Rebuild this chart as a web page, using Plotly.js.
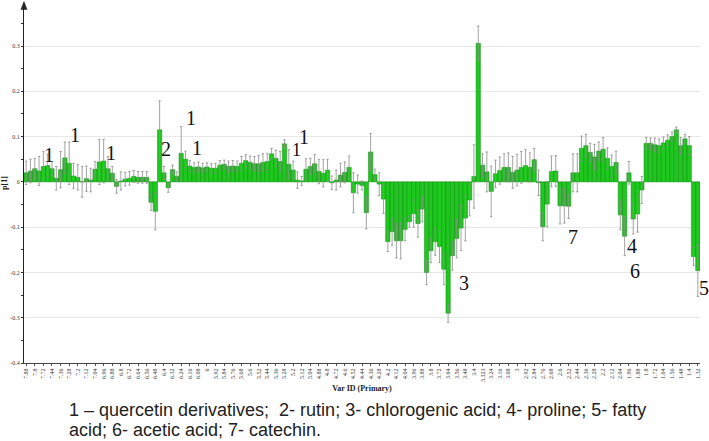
<!DOCTYPE html>
<html>
<head>
<meta charset="utf-8">
<script src="https://cdn.plot.ly/plotly-3.0.1.min.js"></script>
<style>html,body{margin:0;padding:0;background:#fff;}#chart{width:709px;height:441px;}</style>
</head>
<body>
<div id="chart"></div>
<script>
// Tick labels (every second bucket, ppm)
const tickLabels = [
  "7.88","7.8","7.72","7.44","7.36","7.28","7.2","7.12","7.04","6.96",
  "6.88","6.8","6.72","6.64","6.56","6.48","6.4","6.32","6.24","6.16",
  "6.08","6","5.92","5.84","5.76","5.68","5.6","5.52","5.44","5.36",
  "5.28","5.2","5.12","5.04","4.88","4.8","4.72","4.6","4.52","4.44",
  "4.36","4.28","4.2","4.12","4.04","3.96","3.88","3.8","3.72","3.64",
  "3.56","3.48","3.4","3.323","3.24","3.16","3.08","3","2.92","2.84",
  "2.76","2.68","2.6","2.52","2.44","2.36","2.28","2.2","2.12","2.04",
  "1.96","1.88","1.8","1.72","1.64","1.56","1.48","1.4","1.32"
];

// p[1] loadings per variable bucket
const loadings = [
  0.020, 0.024, 0.029, 0.024, 0.034, 0.036, 0.029, 0.008, 0.027, 0.053,
  0.041, 0.013, 0.010, 0.000, 0.007, 0.004, 0.028, 0.044, 0.046, 0.029,
  0.019, -0.010, 0.002, 0.006, 0.008, 0.012, 0.010, 0.010, 0.010, -0.045,
  -0.065, 0.115, 0.020, -0.013, 0.027, 0.012, 0.063, 0.050, 0.035,
  0.032, 0.033, 0.031, 0.033, 0.030, 0.030, 0.037, 0.039,
  0.034, 0.035, 0.034, 0.041, 0.047, 0.043, 0.040, 0.040, 0.043, 0.045,
  0.062, 0.052, 0.045, 0.084, 0.039, 0.026, 0.004, 0.002, 0.028, 0.034,
  0.040, 0.023, 0.019, 0.026, -0.002, 0.004, 0.015, 0.021, 0.032, -0.024,
  -0.005, -0.008, -0.068, 0.066, 0.016, -0.005,
  -0.038, -0.132, -0.110, -0.130, -0.130, -0.105, -0.088, -0.070, -0.092, -0.060,
  -0.200, -0.152, -0.132, -0.143, -0.193, -0.290, -0.163, -0.125, -0.102, -0.080, -0.040,
  0.012, 0.306,
  0.037, 0.022, -0.021, 0.018, 0.025, 0.032, 0.032, 0.021, 0.026, 0.032,
  0.036, 0.032, 0.049, -0.002, -0.099, -0.049, 0.023, 0.024, -0.053, -0.053,
  -0.054, 0.020, 0.020, 0.074, 0.080, 0.065, 0.055, 0.068, 0.072, 0.052,
  0.034, 0.043, -0.073, -0.120, 0.020, -0.082, -0.071, -0.018, 0.085, 0.085,
  0.082, 0.080, 0.086, 0.092, 0.100, 0.115, 0.080, 0.095, 0.080, -0.165,
  -0.196
];

// Confidence intervals (symmetric)
const confInt = [
  0.026, 0.026, 0.023, 0.032, 0.033, 0.025, 0.016, 0.026, 0.040, 0.035,
  0.047, 0.028, 0.028, 0.034, 0.028, 0.026, 0.017, 0.050, 0.048, 0.027,
  0.015, 0.015, 0.020, 0.015, 0.015, 0.013, 0.013, 0.013, 0.013, 0.018,
  0.041, 0.064, 0.014, 0.010, 0.010, 0.010, 0.059, 0.018, 0.012,
  0.010, 0.011, 0.010, 0.009, 0.010, 0.011, 0.010, 0.009,
  0.012, 0.012, 0.012, 0.015, 0.013, 0.014, 0.016, 0.018, 0.019, 0.018,
  0.012, 0.018, 0.022, 0.009, 0.032, 0.020, 0.018, 0.010, 0.023, 0.018,
  0.020, 0.027, 0.030, 0.024, 0.015, 0.022, 0.026, 0.023, 0.025, 0.044,
  0.020, 0.010, 0.036, 0.041, 0.012, 0.025,
  0.032, 0.022, 0.030, 0.038, 0.040, 0.025, 0.012, 0.030, 0.030, 0.028,
  0.027, 0.026, 0.030, 0.035, 0.034, 0.020, 0.032, 0.043, 0.050, 0.050, 0.035,
  0.070, 0.038,
  0.025, 0.044, 0.056, 0.030, 0.030, 0.030, 0.032, 0.035, 0.035, 0.035,
  0.035, 0.032, 0.025, 0.028, 0.031, 0.050, 0.034, 0.034, 0.040, 0.038,
  0.027, 0.042, 0.042, 0.027, 0.025, 0.020, 0.028, 0.020, 0.026, 0.023,
  0.025, 0.025, 0.033, 0.043, 0.025, 0.033, 0.040, 0.030, 0.013, 0.012,
  0.015, 0.015, 0.013, 0.012, 0.010, 0.006, 0.018, 0.010, 0.020, 0.020,
  0.057
];

const yTickVals = [-0.4, -0.3, -0.2, -0.1, 0, 0.1, 0.2, 0.3];
const yTickText = ["-0.4", "-0.3", "-0.2", "-0.1", "0", "0.1", "0.2", "0.3"];

// Compound labels: [text, bucket index, loading, font size, pixel shift]
const markLabels = [
  ["1", 5.4, 0.060, 20, 0], ["1", 11.4, 0.104, 20, 0], ["1", 19.6, 0.064, 20, 0], ["2", 32.4, 0.073, 20, 0],
  ["1", 38.4, 0.141, 20, 0], ["1", 39.6, 0.075, 20, 0], ["1", 62.9, 0.070, 18, 0], ["1", 64.6, 0.099, 20, 0],
  ["3", 101.6, -0.223, 20, 0], ["7", 127.1, -0.121, 20, 0], ["4", 140.6, -0.142, 20, 0],
  ["6", 141.3, -0.196, 20, 0], ["5", 156.0, -0.234, 20, 6]
];

const captionLine1 = "1 – quercetin derivatives;\u00a0 2- rutin; 3- chlorogenic acid; 4- proline; 5- fatty";
const captionLine2 = "acid; 6- acetic acid; 7- catechin.";

const xIdx = loadings.map((_, i) => i);
const xTickVals = tickLabels.map((_, k) => 2 * k);

const trace = {
  type: "bar",
  x: xIdx,
  y: loadings,
  marker: { color: "#1ec81e", line: { color: "#0b8c0b", width: 0.5 } },
  error_y: { type: "data", array: confInt, visible: true, color: "#8c8c8c", thickness: 0.8, width: 1.2 },
  hoverinfo: "y"
};

const serif = "Liberation Serif, Times New Roman, serif";
const annotations = markLabels.map(m => ({
  text: m[0], x: m[1], y: m[2], xref: "x", yref: "y", showarrow: false, xshift: m[4],
  font: { family: serif, size: m[3], color: "#111" }
}));
annotations.push({
  text: captionLine1, xref: "paper", yref: "paper", x: 0.0636, y: -0.130,
  xanchor: "left", yanchor: "middle", showarrow: false,
  font: { family: "Liberation Sans, Arial, sans-serif", size: 18, color: "#222" }
});
annotations.push({
  text: captionLine2, xref: "paper", yref: "paper", x: 0.0636, y: -0.187,
  xanchor: "left", yanchor: "middle", showarrow: false,
  font: { family: "Liberation Sans, Arial, sans-serif", size: 18, color: "#222" }
});

const layout = {
  width: 709, height: 441,
  margin: { l: 24, r: 9, t: 3, b: 78 },
  paper_bgcolor: "#fff", plot_bgcolor: "#fff",
  showlegend: false,
  bargap: 0,
  xaxis: {
    range: [-0.5, loadings.length - 0.5],
    tickmode: "array", tickvals: xTickVals, ticktext: tickLabels,
    tickangle: -90,
    tickfont: { family: serif, size: 6, color: "#333" },
    showline: true, linecolor: "#444", linewidth: 1,
    ticks: "outside", ticklen: 2, tickcolor: "#555",
    showgrid: false, zeroline: false,
    title: { text: "<b>Var ID (Primary)</b>", font: { family: serif, size: 8, color: "#222" }, standoff: 4 }
  },
  yaxis: {
    range: [-0.4, 0.395],
    tickmode: "array", tickvals: yTickVals, ticktext: yTickText,
    tickfont: { family: serif, size: 6, color: "#333" },
    showline: true, linecolor: "#222", linewidth: 1,
    ticks: "outside", ticklen: 2, tickcolor: "#333",
    showgrid: true, gridcolor: "#e8e8e8", gridwidth: 1,
    zeroline: false,
    minor: { tickvals: [-0.35, -0.25, -0.15, -0.05, 0.05, 0.15, 0.25, 0.35], ticks: "outside", ticklen: 2, tickcolor: "#333", showgrid: false },
    title: { text: "<b>p[1]</b>", font: { family: serif, size: 8, color: "#222" }, standoff: 2 }
  },
  shapes: [{
    type: "path", xref: "paper", yref: "paper",
    path: "M -0.0045,0.982 L 0,1.004 L 0.0045,0.982 Z",
    fillcolor: "#222", line: { color: "#222", width: 0.5 }
  }],
  annotations: annotations
};

Plotly.newPlot("chart", [trace], layout, { displayModeBar: false, staticPlot: true });
</script>
</body>
</html>
